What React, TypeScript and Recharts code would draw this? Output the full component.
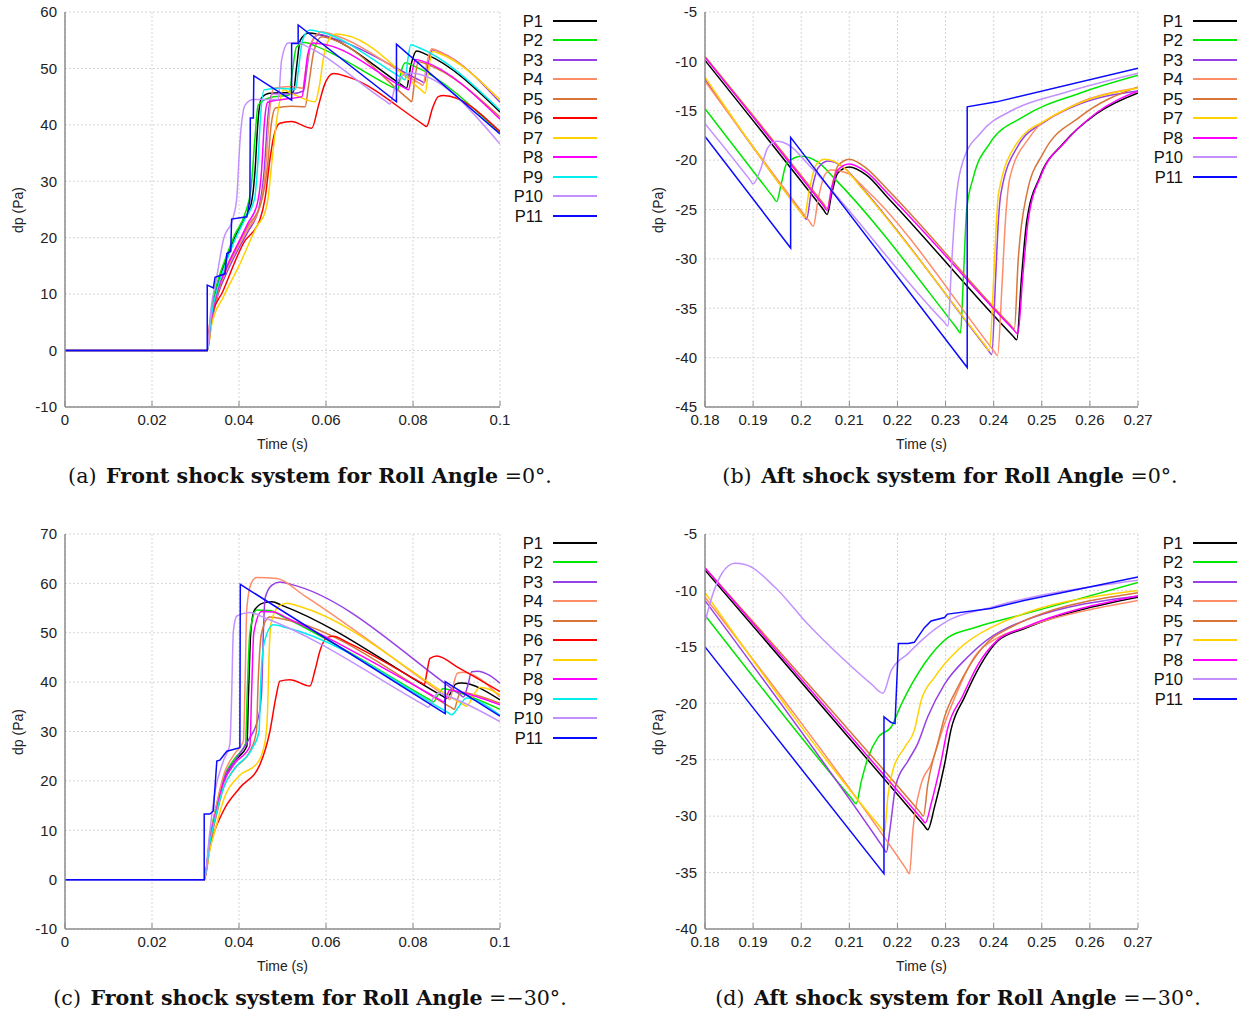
import { LineChart, Line, XAxis, YAxis, CartesianGrid, Label } from 'recharts';

type Pt = [number, number];

const NAMES_ALL = ['P1', 'P2', 'P3', 'P4', 'P5', 'P6', 'P7', 'P8', 'P9', 'P10', 'P11'];
const NAMES_AFT = ['P1', 'P2', 'P3', 'P4', 'P5', 'P7', 'P8', 'P10', 'P11'];

const COLORS: Record<string, string> = {
  P1: '#000000',
  P2: '#00e600',
  P3: '#9640e6',
  P4: '#ff8c69',
  P5: '#d8763a',
  P6: '#ff0000',
  P7: '#ffd200',
  P8: '#ff00ff',
  P9: '#00eeee',
  P10: '#c391ff',
  P11: '#0a0aff',
};

const FRONT_X_TICKS = [0, 0.02, 0.04, 0.06, 0.08, 0.1];
const AFT_X_TICKS = [0.18, 0.19, 0.2, 0.21, 0.22, 0.23, 0.24, 0.25, 0.26, 0.27];
const A_Y_TICKS = [-10, 0, 10, 20, 30, 40, 50, 60];
const B_Y_TICKS = [-45, -40, -35, -30, -25, -20, -15, -10, -5];
const C_Y_TICKS = [-10, 0, 10, 20, 30, 40, 50, 60, 70];
const D_Y_TICKS = [-40, -35, -30, -25, -20, -15, -10, -5];

// (a) front shock, roll 0 deg  [time s, dp Pa]
const frontA_P1: Pt[] = [[0, 0], [0.0327, 0], [0.0336, 6], [0.0352, 12], [0.037, 16], [0.0387, 19.5], [0.041, 23], [0.0428, 26], [0.0437, 32], [0.0443, 40], [0.0452, 44.8], [0.047, 45.6], [0.0525, 45.8], [0.0532, 50], [0.0541, 55], [0.056, 56.3], [0.0585, 56], [0.0777, 46.9], [0.0785, 46.5], [0.0795, 50.5], [0.0808, 53.1], [0.083, 52.5], [0.1, 42.3]];
const frontA_P2: Pt[] = [[0, 0], [0.0327, 0], [0.0336, 7], [0.0352, 12.5], [0.037, 16.5], [0.039, 20.5], [0.0415, 24.5], [0.0428, 29], [0.0436, 37], [0.0444, 43.5], [0.047, 44.8], [0.0515, 45.3], [0.0522, 49], [0.0532, 53.8], [0.0552, 54.6], [0.0575, 54], [0.0757, 46.5], [0.0765, 46.2], [0.0773, 49.5], [0.0783, 51], [0.08, 50.5], [0.1, 38.5]];
const frontA_P3: Pt[] = [[0, 0], [0.0327, 0], [0.0337, 5], [0.0352, 10], [0.037, 13.5], [0.0395, 17.5], [0.042, 21], [0.0445, 25], [0.0458, 32], [0.0466, 41], [0.0476, 45.5], [0.052, 45.5], [0.0548, 46], [0.0556, 50], [0.0566, 54.5], [0.0585, 56], [0.061, 55.5], [0.0818, 47.8], [0.0826, 47.5], [0.0834, 50.5], [0.0845, 53.3], [0.0865, 52.8], [0.1, 44]];
const frontA_P4: Pt[] = [[0, 0], [0.0327, 0], [0.0337, 5.5], [0.0352, 10.5], [0.037, 14], [0.0395, 18], [0.042, 21.5], [0.0448, 25.5], [0.0462, 33], [0.047, 42], [0.048, 46.5], [0.052, 46.8], [0.0546, 46.5], [0.0554, 50], [0.0566, 54.5], [0.059, 56.5], [0.0615, 56], [0.0815, 47.35], [0.0823, 47], [0.0832, 51], [0.0843, 53.5], [0.086, 53], [0.1, 44.4]];
const frontA_P5: Pt[] = [[0, 0], [0.0327, 0], [0.0337, 5.5], [0.0352, 10.5], [0.037, 14.5], [0.0395, 18.5], [0.042, 22], [0.045, 26], [0.0466, 33], [0.0474, 40], [0.0484, 43], [0.052, 43.3], [0.0552, 43.2], [0.056, 47], [0.0572, 53], [0.059, 55.6], [0.062, 55], [0.0789, 44.6], [0.0797, 44.1], [0.0804, 48], [0.0812, 51.2], [0.083, 50.8], [0.1, 41.4]];
const frontA_P6: Pt[] = [[0, 0], [0.0327, 0], [0.0333, 5], [0.0364, 10.7], [0.041, 19], [0.0448, 23.2], [0.046, 27], [0.0471, 33.8], [0.048, 38], [0.0494, 40.3], [0.052, 40.6], [0.0567, 39.4], [0.0583, 43.5], [0.0596, 47], [0.0617, 49.1], [0.065, 48.5], [0.0823, 40.1], [0.0831, 39.7], [0.0845, 43], [0.0858, 45], [0.087, 45.2], [0.1, 38.8]];
const frontA_P7: Pt[] = [[0, 0], [0.0327, 0], [0.0337, 4.5], [0.0364, 9.5], [0.04, 15], [0.0441, 22], [0.046, 24.5], [0.0467, 27], [0.0475, 33], [0.049, 42.6], [0.0502, 46.2], [0.052, 45.6], [0.0575, 44.1], [0.0585, 47], [0.0594, 51.8], [0.0609, 55.4], [0.0625, 56.1], [0.065, 55.8], [0.082, 46.1], [0.0828, 45.6], [0.0836, 50], [0.0845, 53], [0.0862, 52.6], [0.1, 44.4]];
const frontA_P8: Pt[] = [[0, 0], [0.0327, 0], [0.0336, 5.5], [0.035, 10.5], [0.037, 14.5], [0.0395, 18.5], [0.042, 22.5], [0.0442, 26], [0.0452, 32], [0.0458, 40], [0.0466, 44], [0.05, 44.5], [0.0545, 45], [0.0551, 48], [0.0558, 52.5], [0.057, 54.5], [0.06, 54.2], [0.0782, 46.5], [0.079, 46.2], [0.0797, 49], [0.0806, 51.6], [0.0825, 51.2], [0.1, 41]];
const frontA_P9: Pt[] = [[0, 0], [0.0327, 0], [0.0336, 6], [0.0352, 11.5], [0.037, 15.5], [0.039, 19.5], [0.0415, 23.5], [0.0436, 27], [0.0444, 34], [0.045, 42], [0.0458, 46.2], [0.049, 46.5], [0.053, 46.3], [0.0537, 50], [0.0546, 55], [0.0563, 56.8], [0.059, 56.4], [0.0774, 48.35], [0.0782, 48], [0.0788, 51.5], [0.0795, 54.2], [0.081, 53.8], [0.1, 42.6]];
const frontA_P10: Pt[] = [[0, 0], [0.0327, 0], [0.0335, 7], [0.0349, 13.1], [0.0364, 19.6], [0.0387, 23.7], [0.0395, 27.2], [0.0402, 36.8], [0.0414, 43.5], [0.0433, 44.5], [0.049, 44.5], [0.0498, 51.5], [0.0513, 54.5], [0.0535, 54.6], [0.0556, 53.9], [0.0739, 44.1], [0.0747, 43.7], [0.0758, 46.5], [0.077, 48.3], [0.0793, 49.2], [0.1, 36.6]];
const frontA_P11: Pt[] = [[0, 0], [0.0327, 0], [0.0327, 11.6], [0.0341, 11.1], [0.0345, 13], [0.0368, 13.6], [0.0372, 17.2], [0.0381, 17.6], [0.0383, 23.3], [0.0418, 23.7], [0.0425, 26.7], [0.0426, 41.2], [0.0433, 41.2], [0.0434, 48.7], [0.0521, 44.4], [0.0521, 54.4], [0.0536, 54.4], [0.0536, 57.7], [0.0762, 44.1], [0.0762, 54.3], [0.1, 38.4]];

// (b) aft shock, roll 0 deg
const aftB_P1: Pt[] = [[0.18, -9.9], [0.2046, -25.0], [0.2054, -25.5], [0.2063, -23.5], [0.2076, -21.3], [0.21, -20.7], [0.2135, -21.5], [0.218, -23.8], [0.244, -37.8], [0.2448, -38.2], [0.2458, -31.8], [0.2469, -26.1], [0.2496, -21.7], [0.2545, -18.3], [0.2614, -15.3], [0.27, -13.2]];
const aftB_P2: Pt[] = [[0.18, -14.8], [0.1941, -23.7], [0.1949, -24.2], [0.1958, -22.5], [0.197, -20.3], [0.2, -19.6], [0.2035, -20.2], [0.207, -21.9], [0.2323, -37.0], [0.2331, -37.5], [0.2337, -32], [0.2344, -25], [0.2358, -21.7], [0.2392, -18.3], [0.2462, -15.6], [0.258, -13.2], [0.27, -11.4]];
const aftB_P3: Pt[] = [[0.18, -11.8], [0.2003, -25.5], [0.2011, -26], [0.202, -23.5], [0.2035, -20.8], [0.2056, -20.1], [0.209, -20.8], [0.213, -23], [0.2388, -39.2], [0.2396, -39.7], [0.2404, -32], [0.241, -26], [0.2415, -23.4], [0.245, -18.6], [0.251, -16], [0.258, -14.3], [0.27, -13]];
const aftB_P4: Pt[] = [[0.18, -12], [0.2017, -26.2], [0.2025, -26.7], [0.2035, -24], [0.2049, -21.5], [0.2063, -21], [0.2095, -21.3], [0.2135, -23], [0.24, -39.3], [0.2408, -39.8], [0.2417, -33], [0.2424, -26.5], [0.2434, -21.7], [0.2476, -17.6], [0.2545, -15], [0.27, -12.7]];
const aftB_P5: Pt[] = [[0.18, -9.5], [0.2046, -24.4], [0.2054, -24.9], [0.2063, -22.8], [0.2076, -20.6], [0.21, -19.9], [0.2135, -20.8], [0.218, -23], [0.2435, -36.7], [0.2443, -37.1], [0.2451, -30.1], [0.2469, -23.4], [0.2503, -19.3], [0.258, -15.6], [0.27, -12.6]];
const aftB_P7: Pt[] = [[0.18, -11.6], [0.1999, -25.3], [0.2007, -25.8], [0.2015, -23.5], [0.2032, -20.4], [0.2049, -19.9], [0.2085, -20.6], [0.2125, -22.8], [0.2383, -38.8], [0.2391, -39.3], [0.24, -32], [0.2406, -26], [0.241, -23.4], [0.2448, -18.3], [0.251, -15.9], [0.258, -14.2], [0.27, -12.7]];
const aftB_P8: Pt[] = [[0.18, -9.6], [0.2046, -24.6], [0.2054, -25.1], [0.2063, -23], [0.2076, -21], [0.21, -20.4], [0.2135, -21.2], [0.218, -23.4], [0.2442, -37.2], [0.245, -37.6], [0.2461, -31.5], [0.2472, -26], [0.2499, -21.5], [0.2548, -18.2], [0.2614, -15.2], [0.27, -13]];
const aftB_P10: Pt[] = [[0.18, -16.3], [0.1892, -21.9], [0.19, -22.4], [0.1915, -21], [0.193, -18.8], [0.1949, -18.1], [0.1978, -18.6], [0.2014, -20.4], [0.2297, -36.4], [0.2305, -36.8], [0.2312, -31], [0.232, -25], [0.2337, -20], [0.2372, -17.3], [0.2441, -14.9], [0.2545, -13.2], [0.27, -11.2]];
const aftB_P11: Pt[] = [[0.18, -17.6], [0.1978, -28.9], [0.1978, -17.7], [0.2345, -41], [0.2345, -14.6], [0.2406, -14.1], [0.27, -10.7]];

// (c) front shock, roll -30 deg
const frontC_P1: Pt[] = [[0, 0], [0.032, 0], [0.0333, 8], [0.0348, 14.5], [0.0364, 20], [0.039, 24], [0.0418, 27], [0.0422, 38], [0.0427, 50], [0.0435, 54.5], [0.0455, 56], [0.0475, 56.3], [0.05, 55.5], [0.0869, 37.1], [0.0877, 36.7], [0.0888, 38], [0.0898, 39.6], [0.091, 39.8], [0.1, 36.4]];
const frontC_P2: Pt[] = [[0, 0], [0.032, 0], [0.0333, 8.5], [0.0348, 15], [0.0364, 20.5], [0.039, 24.5], [0.0415, 27.5], [0.0419, 38], [0.0425, 50], [0.0441, 54.6], [0.047, 54.5], [0.05, 53.3], [0.0839, 36.4], [0.0847, 36], [0.0858, 37.5], [0.087, 38.7], [0.0885, 38.4], [0.1, 34.5]];
const frontC_P3: Pt[] = [[0, 0], [0.032, 0], [0.0333, 7.5], [0.0348, 13.5], [0.0364, 20], [0.039, 24], [0.042, 28], [0.0445, 33], [0.0452, 38], [0.0456, 50], [0.046, 57], [0.0475, 59.6], [0.0494, 60.3], [0.052, 59.8], [0.0908, 37.5], [0.0916, 37], [0.0925, 39], [0.0935, 42.1], [0.0948, 42.2], [0.1, 39.8]];
const frontC_P4: Pt[] = [[0, 0], [0.032, 0], [0.0333, 8], [0.0348, 15], [0.0364, 21], [0.039, 25.5], [0.041, 28], [0.0414, 40], [0.0418, 55], [0.0428, 60], [0.0441, 61.2], [0.0487, 61], [0.055, 57.5], [0.0877, 37], [0.0885, 36.5], [0.0893, 39.5], [0.0902, 41.8], [0.0915, 42], [0.1, 37]];
const frontC_P5: Pt[] = [[0, 0], [0.032, 0], [0.0333, 7], [0.0348, 13], [0.0364, 18.5], [0.039, 22.5], [0.0425, 26], [0.044, 30], [0.0444, 40], [0.0452, 50], [0.047, 53.2], [0.05, 52.8], [0.0887, 34.9], [0.0895, 34.5], [0.0902, 36.5], [0.091, 38], [0.0925, 37.8], [0.1, 35.7]];
const frontC_P6: Pt[] = [[0, 0], [0.032, 0], [0.0333, 6.4], [0.0364, 13.9], [0.0402, 18.6], [0.0448, 23.3], [0.0471, 30], [0.0485, 37], [0.0494, 40.2], [0.0517, 40.5], [0.0563, 39.2], [0.0575, 42.5], [0.0586, 46.3], [0.0602, 49], [0.0617, 49.3], [0.065, 48], [0.0818, 39.9], [0.0826, 39.5], [0.0832, 42], [0.0839, 44.8], [0.0855, 45.3], [0.0901, 43.1], [0.1, 38.1]];
const frontC_P7: Pt[] = [[0, 0], [0.032, 0], [0.0333, 6], [0.0348, 11], [0.0364, 16], [0.04, 21], [0.0441, 23.5], [0.046, 28], [0.0466, 35], [0.0469, 45], [0.0474, 52], [0.049, 55.3], [0.051, 56], [0.054, 55.3], [0.0915, 35.5], [0.0923, 35.1], [0.094, 37.5], [0.0954, 38.9], [0.097, 38.7], [0.1, 37.4]];
const frontC_P8: Pt[] = [[0, 0], [0.032, 0], [0.0333, 8], [0.0348, 14], [0.0364, 19.5], [0.039, 23.5], [0.0425, 27], [0.0429, 38], [0.0434, 50], [0.0452, 54.3], [0.048, 54.2], [0.051, 53], [0.0862, 36.4], [0.087, 36], [0.0878, 37.3], [0.0885, 38.4], [0.0898, 38.2], [0.1, 35.4]];
const frontC_P9: Pt[] = [[0, 0], [0.032, 0], [0.0333, 7.5], [0.0348, 13.5], [0.0364, 18.5], [0.039, 22.5], [0.043, 26.5], [0.0446, 30], [0.045, 40], [0.0458, 48], [0.0479, 51.6], [0.051, 51], [0.0881, 33.8], [0.0889, 33.4], [0.0905, 35], [0.0923, 36.8], [0.094, 36.5], [0.1, 33.3]];
const frontC_P10: Pt[] = [[0, 0], [0.032, 0], [0.0333, 9.8], [0.0345, 17.9], [0.0364, 24], [0.0379, 27.4], [0.0383, 36.8], [0.0387, 50.3], [0.0395, 53.4], [0.0425, 54.1], [0.046, 53], [0.0827, 35.3], [0.0835, 34.9], [0.0848, 37], [0.086, 37.8], [0.088, 37.2], [0.1, 32]];
const frontC_P11: Pt[] = [[0, 0], [0.032, 0], [0.032, 13.3], [0.0333, 13.3], [0.0341, 13.9], [0.0349, 24], [0.0356, 24.2], [0.0372, 26], [0.0402, 26.7], [0.0403, 59.8], [0.0874, 33.6], [0.0874, 40.1], [0.1, 33.1]];

// (d) aft shock, roll -30 deg
const aftD_P1: Pt[] = [[0.18, -8.2], [0.2255, -30.8], [0.2263, -31.2], [0.2277, -29.2], [0.2298, -25.4], [0.2311, -22.4], [0.2339, -19.5], [0.2374, -16.5], [0.2408, -14.5], [0.2463, -13.4], [0.27, -10.6]];
const aftD_P2: Pt[] = [[0.18, -12.2], [0.2106, -28.5], [0.2114, -28.9], [0.2125, -26.9], [0.2139, -24.8], [0.216, -23], [0.2187, -22.1], [0.2208, -20.1], [0.2256, -16.5], [0.2304, -14.2], [0.236, -13.3], [0.2463, -12.1], [0.27, -9.3]];
const aftD_P3: Pt[] = [[0.18, -10.9], [0.2169, -32.7], [0.2177, -33.2], [0.2184, -31.3], [0.2197, -27.2], [0.2222, -25.1], [0.2242, -23.6], [0.2263, -21.2], [0.2298, -18.3], [0.2346, -15.9], [0.2415, -13.6], [0.27, -10.5]];
const aftD_P4: Pt[] = [[0.18, -10.6], [0.2217, -34.6], [0.2225, -35.1], [0.2232, -31.3], [0.2249, -27.2], [0.227, -25.4], [0.2298, -21.8], [0.2325, -18.9], [0.236, -15.9], [0.2408, -14.2], [0.2463, -13.3], [0.27, -10.9]];
const aftD_P5: Pt[] = [[0.18, -8], [0.2246, -29.6], [0.2254, -30], [0.2263, -27.2], [0.2284, -23.5], [0.2298, -21.2], [0.2325, -18.6], [0.2367, -15.6], [0.2408, -13.9], [0.27, -10.2]];
const aftD_P7: Pt[] = [[0.18, -10.2], [0.2165, -31.0], [0.2173, -31.4], [0.218, -28.3], [0.219, -26], [0.2215, -23.9], [0.2235, -22.4], [0.2249, -19.8], [0.2277, -17.7], [0.2325, -15.3], [0.2394, -13.3], [0.27, -10]];
const aftD_P8: Pt[] = [[0.18, -8], [0.225, -30.2], [0.2258, -30.6], [0.227, -28.9], [0.2291, -25.1], [0.2304, -22.3], [0.2335, -19.4], [0.237, -16.4], [0.2408, -14.4], [0.2463, -13.3], [0.27, -10.5]];
const aftD_P10: Pt[] = [[0.18, -12.8], [0.1815, -10.5], [0.1835, -8.5], [0.1862, -7.6], [0.1883, -7.7], [0.1945, -9.7], [0.2014, -13], [0.2083, -15.9], [0.2146, -18.3], [0.217, -19.1], [0.2187, -17.1], [0.2222, -15.6], [0.2256, -14.2], [0.2304, -12.7], [0.2394, -11.5], [0.27, -9.1]];
const aftD_P11: Pt[] = [[0.18, -15], [0.2172, -35.1], [0.2172, -21.2], [0.2187, -21.7], [0.2195, -21.8], [0.2202, -14.7], [0.2222, -14.7], [0.2235, -14.6], [0.2256, -13.3], [0.227, -12.7], [0.2298, -12.4], [0.2304, -12.1], [0.2394, -11.6], [0.2463, -10.9], [0.27, -8.8]];

const FONT = '"Liberation Sans", Arial, sans-serif';

const toRows = (pts: Pt[]) => pts.map(([t, v]) => ({ t, v }));

function XTick(props: any) {
  const { x, y, payload } = props;
  return (
    <g>
      <line x1={x} x2={x} y1={y - 8} y2={y - 13} stroke="#8c8c8c" strokeWidth={1} />
      <text x={x} y={y} dy="0.71em" textAnchor="middle" fill="#222" fontSize={15} fontFamily={FONT}>
        {payload.value}
      </text>
    </g>
  );
}

interface PanelProps {
  left: number;
  top: number;
  names: string[];
  series: Record<string, Pt[]>;
  xDomain: [number, number];
  xTicks: number[];
  yDomain: [number, number];
  yTicks: number[];
  rightMargin: number;
  tag: string;
  title: string;
  angle: string;
  captionCenter: number;
}

function Panel(p: PanelProps) {
  return (
    <div style={{ position: 'absolute', left: p.left, top: p.top, width: 640, height: 500 }}>
      <LineChart width={640} height={470} margin={{ top: 12, right: p.rightMargin, bottom: 19, left: 25 }}>
        <CartesianGrid stroke="#d6d6d6" strokeDasharray="2 2" />
        <XAxis
          type="number"
          dataKey="t"
          domain={p.xDomain}
          ticks={p.xTicks}
          interval={0}
          allowDataOverflow
          height={44}
          axisLine={{ stroke: '#8c8c8c', strokeWidth: 1.5 }}
          tickLine={false}
          tickSize={5}
          tickMargin={2}
          tick={<XTick />}
        >
          <Label value="Time (s)" position="insideBottom" offset={2} style={{ fontSize: 14, fill: '#222', fontFamily: FONT }} />
        </XAxis>
        <YAxis
          type="number"
          domain={p.yDomain}
          ticks={p.yTicks}
          interval={0}
          allowDataOverflow
          width={40}
          axisLine={{ stroke: '#8c8c8c', strokeWidth: 1.5 }}
          tickLine={false}
          tickSize={5}
          tickMargin={3}
          tick={{ fill: '#222', fontSize: 15, fontFamily: FONT }}
        />
        {p.names.map((n) => (
          <Line
            key={n}
            data={toRows(p.series[n])}
            dataKey="v"
            name={n}
            type={n === 'P11' ? 'linear' : 'monotone'}
            stroke={COLORS[n]}
            strokeWidth={1.5}
            dot={false}
            activeDot={false}
            isAnimationActive={false}
          />
        ))}
      </LineChart>
      <div
        style={{
          position: 'absolute',
          left: 18,
          top: 209.5,
          transform: 'translate(-50%, -50%) rotate(-90deg)',
          fontFamily: FONT,
          fontSize: 14,
          color: '#222',
          whiteSpace: 'nowrap',
        }}
      >
        dp (Pa)
      </div>
      {p.names.map((n, i) => {
        const cy = Math.round(21 + i * 19.47);
        return (
          <div key={n}>
            <div
              style={{
                position: 'absolute',
                right: 640 - 543,
                top: cy - 10,
                lineHeight: '20px',
                fontFamily: FONT,
                fontSize: 16.5,
                color: '#111',
                textAlign: 'right',
              }}
            >
              {n}
            </div>
            <div
              style={{
                position: 'absolute',
                left: 553,
                top: cy - 1,
                width: 44,
                height: 2,
                background: COLORS[n],
              }}
            />
          </div>
        );
      })}
      <div
        style={{
          position: 'absolute',
          left: p.captionCenter,
          top: 464,
          transform: 'translateX(-50%)',
          whiteSpace: 'nowrap',
          fontFamily: '"DejaVu Serif", serif',
          fontSize: 20.6,
          lineHeight: '24px',
          color: '#111',
        }}
      >
        ({p.tag})<span style={{ marginLeft: 3 }}> </span>
        <b>{p.title}</b> ={p.angle}.
      </div>
    </div>
  );
}

export default function App() {
  const aSeries = { P1: frontA_P1, P2: frontA_P2, P3: frontA_P3, P4: frontA_P4, P5: frontA_P5, P6: frontA_P6, P7: frontA_P7, P8: frontA_P8, P9: frontA_P9, P10: frontA_P10, P11: frontA_P11 };
  const bSeries = { P1: aftB_P1, P2: aftB_P2, P3: aftB_P3, P4: aftB_P4, P5: aftB_P5, P7: aftB_P7, P8: aftB_P8, P10: aftB_P10, P11: aftB_P11 };
  const cSeries = { P1: frontC_P1, P2: frontC_P2, P3: frontC_P3, P4: frontC_P4, P5: frontC_P5, P6: frontC_P6, P7: frontC_P7, P8: frontC_P8, P9: frontC_P9, P10: frontC_P10, P11: frontC_P11 };
  const dSeries = { P1: aftD_P1, P2: aftD_P2, P3: aftD_P3, P4: aftD_P4, P5: aftD_P5, P7: aftD_P7, P8: aftD_P8, P10: aftD_P10, P11: aftD_P11 };

  return (
    <div style={{ position: 'absolute', left: 0, top: 0, width: 1243, height: 1015, background: '#fff', overflow: 'hidden' }}>
      <Panel left={0} top={0} names={NAMES_ALL} series={aSeries} xDomain={[0, 0.1]} xTicks={FRONT_X_TICKS} yDomain={[-10, 60]} yTicks={A_Y_TICKS} rightMargin={140} tag="a" title="Front shock system for Roll Angle" angle="0°" captionCenter={310} />
      <Panel left={640} top={0} names={NAMES_AFT} series={bSeries} xDomain={[0.18, 0.27]} xTicks={AFT_X_TICKS} yDomain={[-45, -5]} yTicks={B_Y_TICKS} rightMargin={142} tag="b" title="Aft shock system for Roll Angle" angle="0°" captionCenter={310} />
      <Panel left={0} top={522} names={NAMES_ALL} series={cSeries} xDomain={[0, 0.1]} xTicks={FRONT_X_TICKS} yDomain={[-10, 70]} yTicks={C_Y_TICKS} rightMargin={140} tag="c" title="Front shock system for Roll Angle" angle="−30°" captionCenter={310} />
      <Panel left={640} top={522} names={NAMES_AFT} series={dSeries} xDomain={[0.18, 0.27]} xTicks={AFT_X_TICKS} yDomain={[-40, -5]} yTicks={D_Y_TICKS} rightMargin={142} tag="d" title="Aft shock system for Roll Angle" angle="−30°" captionCenter={318} />
    </div>
  );
}
